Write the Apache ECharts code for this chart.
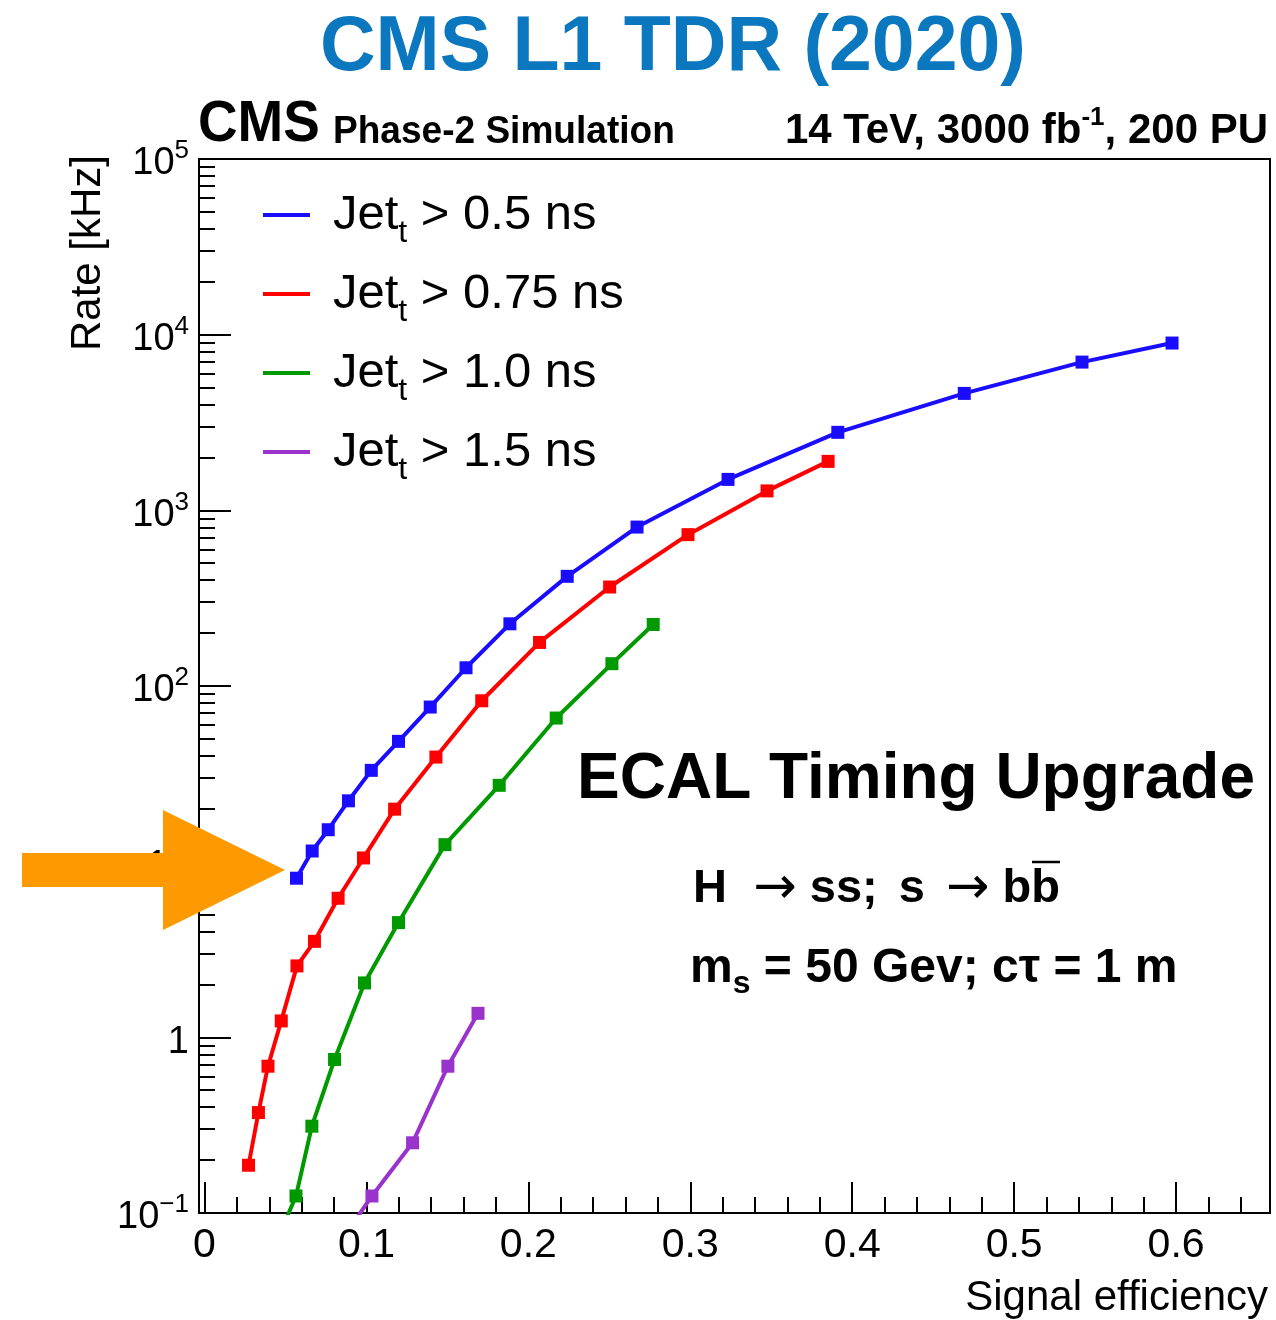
<!DOCTYPE html>
<html>
<head>
<meta charset="utf-8">
<script src="https://cdn.jsdelivr.net/npm/echarts@6/dist/echarts.min.js"></script>
<style>
  html, body { margin: 0; padding: 0; background: #ffffff; }
  #chart { width: 1276px; height: 1320px; }
</style>
</head>
<body>
<div id="chart"></div>
<script>
// Jet timing thresholds and their line colours
const thresholds = ['0.5', '0.75', '1.0', '1.5'];
const lineColors = ['#1a0dff', '#ff0000', '#009900', '#9933cc'];

// Signal efficiency (x) and trigger rate in kHz (y) for each threshold
const effJet05  = [0.0568, 0.0665, 0.0764, 0.0889, 0.1030, 0.1198, 0.1394, 0.1615, 0.1886, 0.2240, 0.2671, 0.3233, 0.3911, 0.4692, 0.5419, 0.5975];
const rateJet05 = [8.05, 11.5, 15.2, 22.2, 33.1, 48.4, 75.9, 127, 226, 421, 803, 1500, 2780, 4630, 6980, 8960];

const effJet075  = [0.0272, 0.0333, 0.0392, 0.0474, 0.0571, 0.0679, 0.0825, 0.0982, 0.1174, 0.1429, 0.1712, 0.2069, 0.2502, 0.2986, 0.3474, 0.3851];
const rateJet075 = [0.187, 0.373, 0.685, 1.24, 2.55, 3.52, 6.19, 10.5, 19.9, 39.4, 82.4, 177, 366, 727, 1290, 1900];

const effJet10  = [0.0462, 0.0565, 0.0663, 0.0803, 0.0988, 0.1198, 0.1485, 0.1820, 0.2172, 0.2516, 0.2771];
const rateJet10 = [0.075, 0.125, 0.312, 0.748, 2.04, 4.50, 12.5, 27.2, 65.7, 134, 224];

const effJet15  = [0.0796, 0.1034, 0.1285, 0.1503, 0.1689];
const rateJet15 = [0.060, 0.125, 0.251, 0.685, 1.37];

// Axis ranges and tick marks
const xRange = [-0.0034, 0.658];
const yRange = [0.1, 100000];
const xMajorTicks = [0, 0.1, 0.2, 0.3, 0.4, 0.5, 0.6];
const xMinorTicks = [];
for (let k = 1; k <= 32; k++) {
  if (k % 5 !== 0) xMinorTicks.push(+(k * 0.02).toFixed(2));
}
// minor ticks of the log axis, expressed as log10 positions on a linear helper axis
const yMinorTicksLog = [];
for (let e = -1; e <= 4; e++) {
  for (let m = 2; m <= 9; m++) yMinorTicksLog.push(Math.log10(m) + e);
}

const effs = [effJet05, effJet075, effJet10, effJet15];
const rates = [rateJet05, rateJet075, rateJet10, rateJet15];

const FONT = '"Liberation Sans", Arial, Helvetica, sans-serif';

const chart = echarts.init(document.getElementById('chart'), null, { renderer: 'canvas' });

const tickStyle = { color: '#000', width: 2 };

const option = {
  animation: false,
  backgroundColor: '#ffffff',
  textStyle: { fontFamily: FONT, color: '#000' },
  grid: {
    left: 199, top: 159, right: 6, bottom: 107,
    show: true, borderColor: '#000', borderWidth: 2,
    containLabel: false, outerBoundsMode: 'none'
  },
  legend: {
    orient: 'vertical',
    left: 258, top: 176,
    itemWidth: 47, itemHeight: 4, itemGap: 11,
    icon: 'rect',
    selectedMode: false,
    data: thresholds.map(t => 'Jet_t > ' + t + ' ns'),
    formatter: name => '{gap| }' + name.replace('Jet_t', 'Jet{sub|t}'),
    textStyle: {
      fontFamily: FONT, fontSize: 49, color: '#000', lineHeight: 56,
      rich: {
        gap: { width: 18, fontSize: 49, lineHeight: 56 },
        sub: { fontSize: 32, fontFamily: FONT, color: '#000', lineHeight: 56, padding: [36, 0, 0, 0] }
      }
    }
  },
  xAxis: [
    {
      type: 'value', min: xRange[0], max: xRange[1], position: 'bottom',
      axisLine: { show: true, onZero: false, lineStyle: { color: '#000', width: 2 } },
      axisTick: { show: true, inside: true, length: 31, lineStyle: tickStyle, customValues: xMajorTicks },
      axisLabel: {
        show: true, customValues: xMajorTicks, fontSize: 41, color: '#000', margin: 12, fontFamily: FONT,
        formatter: v => (Math.abs(v) < 1e-9 ? '0' : v.toFixed(1))
      },
      splitLine: { show: false },
      name: 'Signal efficiency', nameLocation: 'end', nameGap: -2, nameMoveOverlap: false,
      nameTextStyle: { fontSize: 42, color: '#000', fontFamily: FONT, align: 'right', verticalAlign: 'top', padding: [64, 0, 0, 0] }
    },
    {
      type: 'value', min: xRange[0], max: xRange[1], position: 'bottom',
      axisLine: { show: false, onZero: false },
      axisTick: { show: true, inside: true, length: 16, lineStyle: tickStyle, customValues: xMinorTicks },
      axisLabel: { show: false },
      splitLine: { show: false }
    }
  ],
  yAxis: [
    {
      type: 'log', logBase: 10, min: yRange[0], max: yRange[1], position: 'left',
      axisLine: { show: true, onZero: false, lineStyle: { color: '#000', width: 2 } },
      axisTick: { show: true, inside: true, length: 32, lineStyle: tickStyle },
      axisLabel: {
        show: true, margin: 10, showMinLabel: true, showMaxLabel: true,
        formatter: v => {
          const e = Math.round(Math.log10(v));
          if (e === 0) return '{n|1}';
          if (e === 1) return '{n|10}';
          return '{n|10}{e|' + (e < 0 ? '\u2212' + (-e) : String(e)) + '}';
        },
        rich: {
          n: { fontSize: 38, color: '#000', fontFamily: FONT, lineHeight: 44, padding: [10, 0, 0, 0] },
          e: { fontSize: 26, color: '#000', fontFamily: FONT, lineHeight: 44, padding: [0, 0, 16, 0] }
        }
      },
      splitLine: { show: false },
      name: 'Rate [kHz]', nameLocation: 'end', nameRotate: 90, nameGap: 4, nameMoveOverlap: false,
      nameTextStyle: { fontSize: 42, color: '#000', fontFamily: FONT, align: 'right', verticalAlign: 'bottom', padding: [0, 0, 90, 0] }
    },
    {
      type: 'value', min: -1, max: 5, position: 'left',
      axisLine: { show: false, onZero: false },
      axisTick: { show: true, inside: true, length: 16, lineStyle: tickStyle, customValues: yMinorTicksLog },
      axisLabel: { show: false },
      splitLine: { show: false }
    }
  ],
  series: thresholds.map((t, i) => ({
    name: 'Jet_t > ' + t + ' ns',
    type: 'line',
    xAxisIndex: 0,
    yAxisIndex: 0,
    data: effs[i].map((x, j) => [x, rates[i][j]]),
    symbol: 'rect',
    symbolSize: 13,
    showSymbol: true,
    clip: true,
    lineStyle: { color: lineColors[i], width: 4 },
    itemStyle: { color: lineColors[i] },
    emphasis: { disabled: true },
    z: 10 - i
  })),
  graphic: [
    {
      type: 'text', x: 673, y: 49, z: 100,
      style: { text: 'CMS L1 TDR (2020)', font: 'bold 77px ' + FONT, fill: '#0a77be',
        align: 'center', verticalAlign: 'middle', textAlign: 'center', textVerticalAlign: 'middle' }
    },
    {
      type: 'text', x: 198, y: 125, scaleX: 0.945, z: 100,
      style: { text: 'CMS', font: 'bold 58px ' + FONT, fill: '#000',
        align: 'left', verticalAlign: 'middle', textAlign: 'left', textVerticalAlign: 'middle' }
    },
    {
      type: 'text', x: 333, y: 132, scaleX: 0.95, z: 100,
      style: { text: 'Phase-2 Simulation', font: 'bold 39px ' + FONT, fill: '#000',
        align: 'left', verticalAlign: 'middle', textAlign: 'left', textVerticalAlign: 'middle' }
    },
    {
      type: 'text', x: 1268, y: 131, z: 100,
      style: {
        text: '{m|14 TeV, 3000 fb}{s|-1}{m|, 200 PU}',
        align: 'right', verticalAlign: 'middle', textAlign: 'right', textVerticalAlign: 'middle',
        rich: {
          m: { fontSize: 42, fontWeight: 'bold', fontFamily: FONT, fill: '#000', lineHeight: 48 },
          s: { fontSize: 26, fontWeight: 'bold', fontFamily: FONT, fill: '#000', lineHeight: 48, padding: [0, 0, 26, 0] }
        }
      }
    },
    {
      type: 'text', x: 577, y: 780, z: 100,
      style: { text: 'ECAL Timing Upgrade', font: 'bold 64px ' + FONT, fill: '#000',
        align: 'left', verticalAlign: 'middle', textAlign: 'left', textVerticalAlign: 'middle' }
    },
    {
      type: 'text', x: 1060, y: 889, z: 100,
      style: {
        text: '{m|H  }{a|\u2192}{m| ss; }{sp| }{m|s }{sp| }{a|\u2192}{m| bb}',
        align: 'right', verticalAlign: 'middle', textAlign: 'right', textVerticalAlign: 'middle',
        rich: {
          m: { fontSize: 47, fontWeight: 'bold', fontFamily: FONT, fill: '#000', lineHeight: 54 },
          sp: { fontSize: 47, width: 8, lineHeight: 54 },
          a: { fontSize: 52, fontWeight: 'normal', fontFamily: '"DejaVu Sans", sans-serif', fill: '#000', lineHeight: 54 }
        }
      }
    },
    {
      type: 'line', z: 100,
      shape: { x1: 1032, y1: 862, x2: 1060, y2: 862 },
      style: { stroke: '#000', lineWidth: 2.5 }
    },
    {
      type: 'text', x: 690, y: 969, z: 100,
      style: {
        text: '{m|m}{s|s}{m| = 50 Gev; c\u03c4 = 1 m}',
        align: 'left', verticalAlign: 'middle', textAlign: 'left', textVerticalAlign: 'middle',
        rich: {
          m: { fontSize: 48, fontWeight: 'bold', fontFamily: FONT, fill: '#000', lineHeight: 54 },
          s: { fontSize: 32, fontWeight: 'bold', fontFamily: FONT, fill: '#000', lineHeight: 54, padding: [30, 0, 0, 0] }
        }
      }
    },
    {
      type: 'polygon', z: 200,
      shape: { points: [[22, 853], [163, 853], [163, 810], [285, 870], [163, 930], [163, 887], [22, 887]] },
      style: { fill: '#ff9900' }
    }
  ]
};

chart.setOption(option);
</script>
</body>
</html>
